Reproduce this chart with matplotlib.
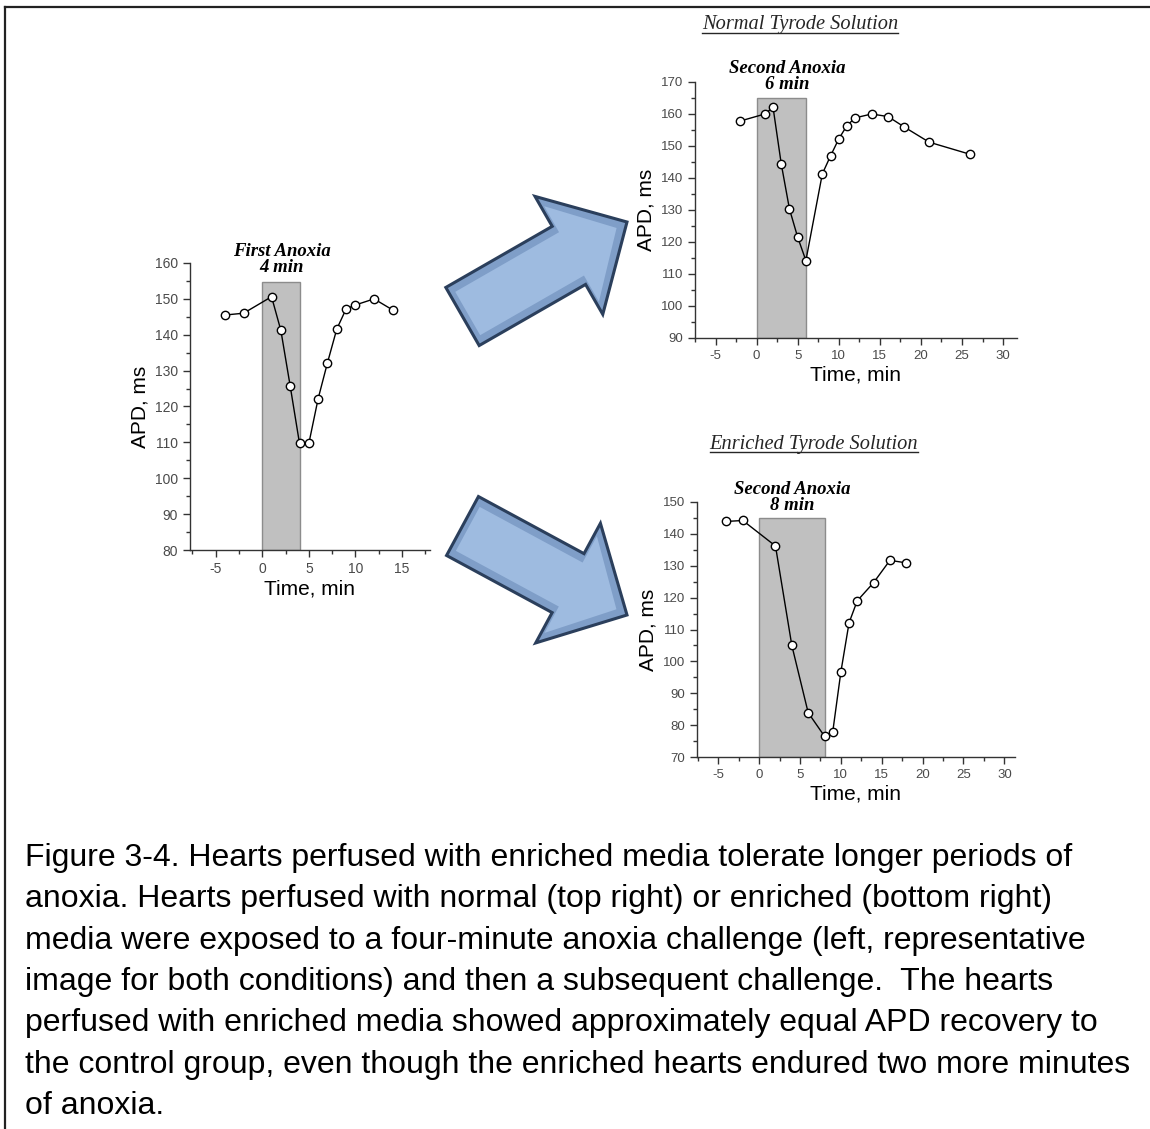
"""Figure 3-4: APD during first and second anoxia, normal vs enriched Tyrode."""
import matplotlib
matplotlib.use("Agg")
import matplotlib.pyplot as plt
from matplotlib.lines import Line2D
from matplotlib.patches import FancyArrow, Rectangle
from matplotlib.ticker import MultipleLocator

# first anoxia (left panel)
first_time = [-4, -2, 1, 2, 3, 4, 5, 6, 7, 8, 9, 10, 12, 14]
first_apd = [145.5, 146, 150.6, 141.2, 125.7, 109.7, 109.7, 122.2, 132.2, 141.6, 147.2, 148.3, 150, 146.9]
first_window = (0, 4, 154.6)

# second anoxia, normal Tyrode (top right)
normal_time = [-2, 1, 2, 3, 4, 5, 6, 8, 9, 10, 11, 12, 14, 16, 18, 21, 26]
normal_apd = [157.8, 160, 162.1, 144.4, 130.3, 121.5, 114.2, 141.3, 146.9, 152.2, 156.4, 158.8,
              160, 159.2, 155.9, 151.2, 147.4]
normal_window = (0, 6, 165.1)

# second anoxia, enriched Tyrode (bottom right)
enriched_time = [-4, -2, 2, 4, 6, 8, 9, 10, 11, 12, 14, 16, 18]
enriched_apd = [143.9, 144.2, 136.2, 105, 83.9, 76.5, 77.8, 96.7, 112.1, 119, 124.7, 131.7, 130.9]
enriched_window = (0, 8, 145.1)

caption_lines = [
    "Figure 3-4. Hearts perfused with enriched media tolerate longer periods of",
    "anoxia. Hearts perfused with normal (top right) or enriched (bottom right)",
    "media were exposed to a four-minute anoxia challenge (left, representative",
    "image for both conditions) and then a subsequent challenge.  The hearts",
    "perfused with enriched media showed approximately equal APD recovery to",
    "the control group, even though the enriched hearts endured two more minutes",
    "of anoxia.",
]

W, H = 1150, 1129
SANS = ["Liberation Sans", "DejaVu Sans"]
SERIF = ["Liberation Serif", "DejaVu Serif"]
AX_GREY = "#333333"
plt.rcParams["axes.unicode_minus"] = False


def px_rect(x0, y0, x1, y1):
    """pixel box (top-left origin) -> figure fraction rect"""
    return [x0 / W, 1 - y1 / H, (x1 - x0) / W, (y1 - y0) / H]


def panel(fig, rect, t, apd, window, xlim, ylim, yticks, xticks, label, label_xy, tick_size):
    ax = fig.add_axes(rect)
    x0, x1, top = window
    ax.add_patch(Rectangle((x0, ylim[0]), x1 - x0, top - ylim[0], facecolor="#c0c0c0",
                           edgecolor="#8c8c8c", linewidth=1, zorder=1))
    ax.plot(t, apd, color="black", linewidth=1, marker="o", markersize=6,
            markerfacecolor="white", markeredgecolor="black", markeredgewidth=1, zorder=3)
    ax.set_xlim(*xlim)
    ax.set_ylim(*ylim)
    ax.set_xticks(xticks)
    ax.set_yticks(yticks)
    ax.xaxis.set_minor_locator(MultipleLocator(2.5))
    ax.yaxis.set_minor_locator(MultipleLocator(5))
    for side in ("top", "right"):
        ax.spines[side].set_visible(False)
    for side in ("left", "bottom"):
        ax.spines[side].set_color(AX_GREY)
        ax.spines[side].set_linewidth(1)
    ax.spines["left"].set_bounds(ylim[0], yticks[-1])
    ax.tick_params(which="major", direction="out", length=5, width=1, color=AX_GREY,
                   labelsize=tick_size, labelcolor="#4a4a4a")
    ax.tick_params(which="minor", direction="out", length=3, width=1, color=AX_GREY)
    for lab in ax.get_xticklabels() + ax.get_yticklabels():
        lab.set_family(SANS)
    ax.set_xlabel("Time, min", fontsize=15, family=SANS, labelpad=3)
    ax.set_ylabel("APD, ms", fontsize=15, family=SANS, labelpad=4)
    ax.patch.set_alpha(0)
    ax.text(label_xy[0], label_xy[1], label, ha="center", va="bottom", fontsize=13.5,
            family=SERIF, fontweight="bold", style="italic", linespacing=0.95, clip_on=False)
    return ax


fig = plt.figure(figsize=(W / 100, H / 100), dpi=100)

# frame around the figure (only left and top edges visible)
fig.add_artist(Line2D([5 / W, 5 / W], [0, 1 - 7 / H], color="#222222", linewidth=1.6))
fig.add_artist(Line2D([5 / W, 1], [1 - 7 / H, 1 - 7 / H], color="#222222", linewidth=1.6))

panel(fig, px_rect(190, 263, 430, 550), first_time, first_apd, first_window,
      (-7.75, 18), (80, 160), list(range(80, 161, 10)), [-5, 0, 5, 10, 15],
      "First Anoxia\n4 min", (2.1, 156.3), 10)
panel(fig, px_rect(695, 82, 1017, 338), normal_time, normal_apd, normal_window,
      (-7.5, 31.7), (90, 170), list(range(90, 171, 10)), list(range(-5, 31, 5)),
      "Second Anoxia\n6 min", (3.7, 166.6), 9.5)
panel(fig, px_rect(697, 502, 1015, 757), enriched_time, enriched_apd, enriched_window,
      (-7.6, 31.3), (70, 150), list(range(70, 151, 10)), list(range(-5, 31, 5)),
      "Second Anoxia\n8 min", (4.0, 146.2), 9.5)

# underlined condition titles
titles = []
for txt, (cx, cy) in [("Normal Tyrode Solution", (800, 25)),
                      ("Enriched Tyrode Solution", (814, 445))]:
    titles.append(fig.text(cx / W, 1 - cy / H, txt, ha="center", va="center", fontsize=14.7,
                           family=SERIF, style="italic", color="#262626"))

# block arrows (pixel geometry, converted to inches); darker rim + lighter core
for tail, tip in [((462.5, 316.5), (627, 222)), ((462.5, 526), (627, 615))]:
    x, y = tail[0] / 100, (H - tail[1]) / 100
    dx, dy = (tip[0] - tail[0]) / 100, -(tip[1] - tail[1]) / 100
    L = (dx ** 2 + dy ** 2) ** 0.5
    ux, uy = dx / L, dy / L
    fig.add_artist(FancyArrow(x, y, dx, dy, width=0.67, head_width=1.36, head_length=0.67,
                              length_includes_head=True, facecolor="#7f9ec8",
                              edgecolor="#2b3f5c", linewidth=2.2,
                              transform=fig.dpi_scale_trans, joinstyle="miter"))
    fig.add_artist(FancyArrow(x + 0.06 * ux, y + 0.06 * uy, dx - 0.18 * ux, dy - 0.18 * uy,
                              width=0.5, head_width=1.1, head_length=0.52,
                              length_includes_head=True, facecolor="#9ebbe0",
                              edgecolor="none", transform=fig.dpi_scale_trans))

# caption
for i, line in enumerate(caption_lines):
    fig.text(25 / W, 1 - (866 + i * 41.3) / H, line, ha="left", va="baseline",
             fontsize=23, family=SANS, color="black")

fig.canvas.draw()
inv = fig.transFigure.inverted()
for t in titles:
    bb = t.get_window_extent().transformed(inv)
    fig.add_artist(Line2D([bb.x0, bb.x1], [bb.y0 + 2 / H, bb.y0 + 2 / H], color="#262626",
                          linewidth=1))

fig.savefig("out.png", dpi=100)
plt.close(fig)
